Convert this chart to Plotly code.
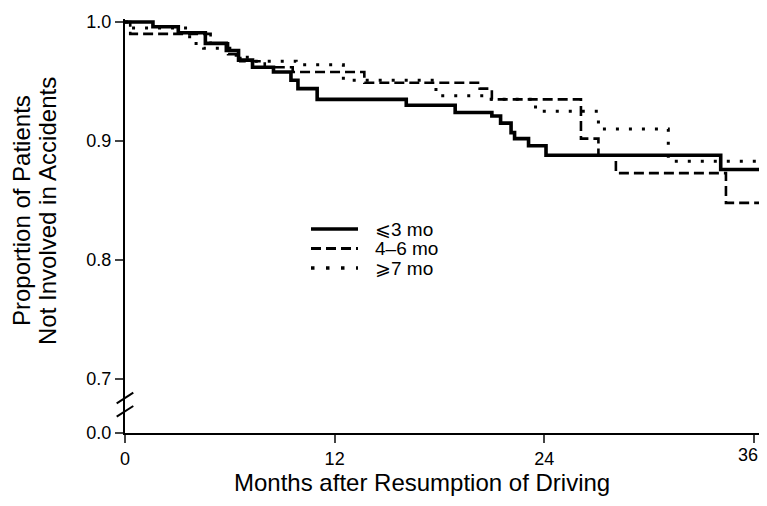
import plotly.graph_objects as go

# ---- data ----
solid_t = [0, 1.6, 3.05, 4.6, 5.8, 6.5, 7.3, 8.5, 9.5, 9.9, 11.0, 16.1, 18.9, 21.0, 21.5, 22.1, 22.3, 23.1, 24.1, 34.1, 36.75]
solid_s = [1.0, 0.996, 0.991, 0.982, 0.976, 0.968, 0.962, 0.958, 0.951, 0.944, 0.935, 0.930, 0.924, 0.921, 0.915, 0.907, 0.902, 0.896, 0.888, 0.876, 0.876]

dashed_t = [0, 0.3, 4.9, 5.9, 6.6, 8.0, 9.6, 13.7, 20.3, 21.0, 26.1, 27.1, 28.1, 34.4, 36.75]
dashed_s = [1.0, 0.99, 0.982, 0.973, 0.967, 0.962, 0.958, 0.949, 0.944, 0.935, 0.902, 0.888, 0.873, 0.848, 0.848]

dotted_t = [0, 0.4, 3.7, 4.5, 6.0, 7.0, 9.8, 12.5, 17.8, 20.8, 23.5, 27.1, 31.1, 36.75]
dotted_s = [1.0, 0.995, 0.982, 0.978, 0.972, 0.967, 0.964, 0.951, 0.938, 0.935, 0.925, 0.910, 0.883, 0.883]

series_names = ["\u2a7d3 mo", "4\u20136 mo", "\u2a7e7 mo"]
x_ticks = [0, 12, 24, 36]
y_ticks = [0.7, 0.8, 0.9, 1.0]

FONT = "Arial, Liberation Sans, Helvetica, sans-serif"
OFF = 8  # default page body margin
W, H = 767 - OFF, 506 - 2 * OFF   # keep the page from scrolling
L, R = 125 - OFF, 0
T = 19 - OFF
B = H - (433 - OFF)
PW, PH = W - L - R, H - T - B

def px(xr):
    """reference-window x pixel -> paper coordinate"""
    return (xr - OFF - L) / PW

def py(yr):
    """reference-window y pixel -> paper coordinate"""
    return (H - B - (yr - OFF)) / PH

fig = go.Figure()
fig.add_trace(go.Scatter(x=dotted_t, y=dotted_s, mode="lines", line_shape="hv",
                         line=dict(color="black", width=3, dash="3px,10px"),
                         name=series_names[2], showlegend=False))
fig.add_trace(go.Scatter(x=dashed_t, y=dashed_s, mode="lines", line_shape="hv",
                         line=dict(color="black", width=2.6, dash="10px,5px"),
                         name=series_names[1], showlegend=False))
fig.add_trace(go.Scatter(x=solid_t, y=solid_s, mode="lines", line_shape="hv",
                         line=dict(color="black", width=3.6),
                         name=series_names[0], showlegend=False))
# empty trace so the lower (broken) axis segment is drawn
fig.add_trace(go.Scatter(x=[], y=[], yaxis="y2", mode="lines",
                         showlegend=False, hoverinfo="skip"))

# last x tick label is placed as an annotation (nudged left so it is not cut at the window edge)
x_ticktext = [str(v) for v in x_ticks[:-1]] + [""]

brk = py(405)
fig.update_layout(
    width=W, height=H,
    margin=dict(l=L, r=R, t=T, b=B, pad=0),
    paper_bgcolor="white", plot_bgcolor="white",
    font=dict(family=FONT, color="black", size=18),
    xaxis=dict(range=[0, 36.75], tickvals=x_ticks, ticktext=x_ticktext,
               ticks="outside", ticklen=8,
               tickwidth=2, showline=True, linewidth=2, linecolor="black",
               showgrid=False, zeroline=False, anchor="y2",
               tickfont=dict(size=18)),
    yaxis=dict(domain=[brk, 1], range=[0.67810, 1.002527], tickvals=y_ticks,
               tickformat=".1f", ticks="outside", ticklen=8, tickwidth=2,
               showline=True, linewidth=2, linecolor="black", showgrid=False,
               zeroline=False, tickfont=dict(size=18)),
    yaxis2=dict(domain=[0, brk], range=[0, 1], tickvals=[0], ticktext=["0.0"],
                ticks="outside", ticklen=8, tickwidth=2, showline=True,
                linewidth=2, linecolor="black", showgrid=False, zeroline=False,
                tickfont=dict(size=18), anchor="x"),
)
fig.add_annotation(xref="x", yref="paper", x=x_ticks[-1], y=py(455),
                   text=str(x_ticks[-1]), showarrow=False, xanchor="center",
                   yanchor="middle", xshift=-6, font=dict(size=18, family=FONT))

# axis break marks
for y0, y1 in [(403.3, 392.7), (416.7, 406.0)]:
    fig.add_shape(type="line", xref="paper", yref="paper",
                  x0=px(116.7), y0=py(y0), x1=px(133.3), y1=py(y1),
                  line=dict(color="black", width=2))

# legend (drawn manually to match sample length)
leg_rows = [229, 248.5, 268]
leg_styles = [dict(width=3.6, dash="solid"), dict(width=3, dash="10px,5px"),
              dict(width=3.5, dash="3.5px,11.5px")]
for yy, st, nm in zip(leg_rows, leg_styles, series_names):
    fig.add_shape(type="line", xref="paper", yref="paper",
                  x0=px(311), x1=px(358), y0=py(yy), y1=py(yy),
                  line=dict(color="black", width=st["width"], dash=st["dash"]))
    fig.add_annotation(xref="paper", yref="paper", x=px(373), y=py(yy),
                       text=nm, showarrow=False, xanchor="left", yanchor="middle",
                       font=dict(size=19, family=FONT))

# axis titles
for xx, line in [(22, "Proportion of Patients"), (48, "Not Involved in Accidents")]:
    fig.add_annotation(xref="paper", yref="paper", x=px(xx), y=py(211),
                       text=line, textangle=-90, showarrow=False,
                       xanchor="center", yanchor="middle",
                       font=dict(size=24, family=FONT))
fig.add_annotation(xref="paper", yref="paper", x=px(421.5), y=py(482),
                   text="Months after Resumption of Driving",
                   showarrow=False, xanchor="center", yanchor="middle",
                   font=dict(size=24, family=FONT))

fig.write_html("out.html")
